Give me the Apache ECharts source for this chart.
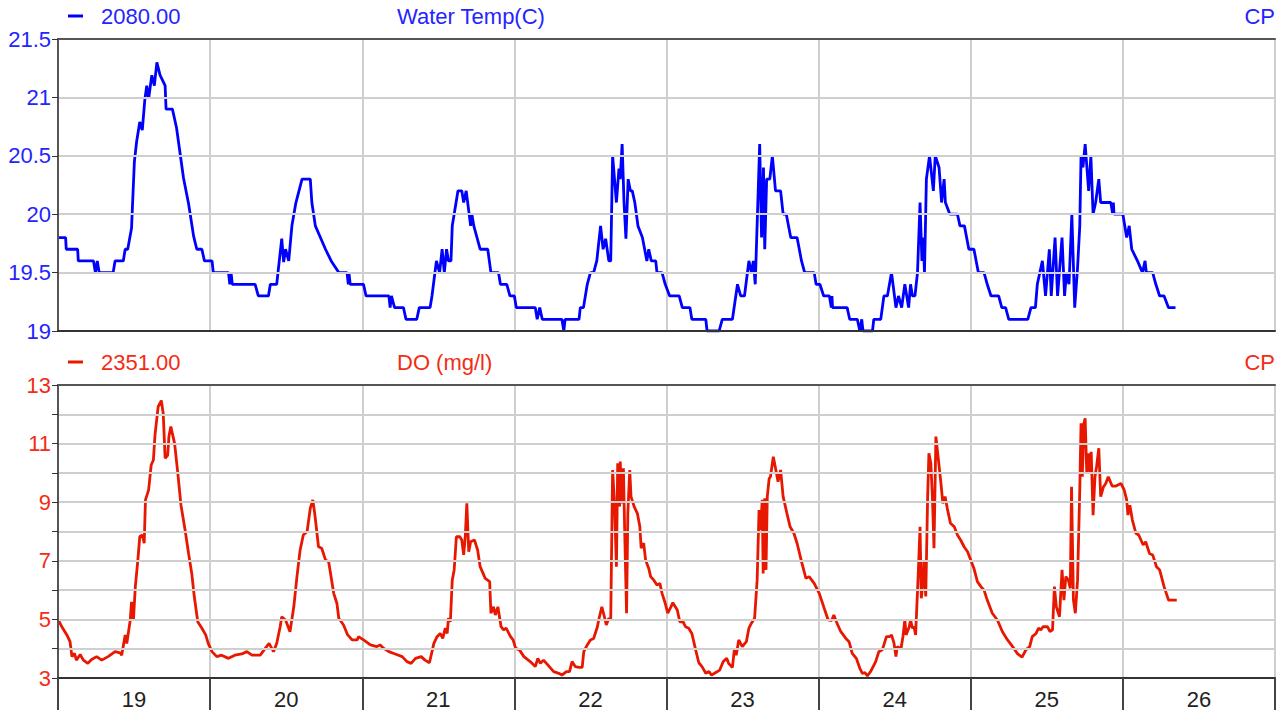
<!DOCTYPE html>
<html>
<head>
<meta charset="utf-8">
<script src="https://cdn.jsdelivr.net/npm/echarts@6/dist/echarts.min.js"></script>
<style>html,body{margin:0;padding:0;background:#fff}#c{width:1287px;height:711px}</style>
</head>
<body>
<div id="c"></div>
<script>
// x values are hours since the start of day 19
const dayLabels = ['19','20','21','22','23','24','25','26'];

const tempHours = [0,1.2,1.3,3.1,3.2,5.6,5.9,6.2,6.5,8.7,9.0,10.3,10.6,11.0,11.6,12.05,12.4,12.9,13.3,13.7,14.0,14.3,14.8,15.2,15.6,16.1,16.9,17.05,18.05,18.7,19.8,20.6,21.4,21.9,22.7,23.1,24.3,24.5,26.9,27.1,27.3,27.5,31.1,31.6,33.2,33.5,34.5,35.3,35.6,35.9,36.4,36.9,37.5,38.5,39.8,40.05,40.6,41.4,42.2,43.1,44.3,45.6,45.8,45.9,46.1,48.2,48.6,52.2,52.4,52.6,53.1,54.5,54.9,56.6,57.0,58.5,58.7,59.0,59.7,60.2,60.6,60.95,61.3,61.6,62.0,62.2,62.5,63.1,63.7,64.0,64.4,65.1,65.3,65.6,66.6,67.8,68.3,69.5,69.8,70.8,71.3,72.0,72.3,75.3,75.6,76.0,76.4,79.5,79.8,80.0,82.2,82.4,82.9,83.5,84.0,84.5,85.0,85.6,86.0,86.4,86.9,87.2,87.5,88.1,88.5,88.7,89.0,89.3,89.6,89.95,90.3,90.6,91.0,91.5,92.2,92.9,93.2,93.6,94.3,94.5,95.3,95.8,96.5,98.0,98.5,99.7,100.0,102.2,102.4,104.3,104.8,106.4,107.2,107.7,108.3,109.0,109.4,109.7,110.0,110.7,111.0,111.3,111.5,111.8,112.3,112.7,113.2,114.0,114.4,114.9,115.6,116.6,117.3,117.8,119.3,119.6,120.2,120.8,121.7,122.0,122.1,122.2,124.5,124.9,126.1,126.5,126.8,127.0,128.5,128.7,129.8,130.3,130.85,131.5,132.2,132.6,133.1,133.6,134.2,134.5,134.8,135.2,135.6,136.0,136.3,136.5,136.7,137.0,137.5,138.1,138.4,139.0,139.4,139.8,140.0,140.7,141.9,142.3,143.0,143.7,144.5,145.2,146.1,146.6,147.2,148.4,148.9,149.5,150.0,153.0,153.5,154.2,154.5,155.3,155.8,156.4,156.7,157.3,157.7,158.4,158.8,159.1,159.5,159.95,160.4,160.85,161.2,161.4,161.7,162.05,162.6,162.95,163.3,163.7,164.2,164.5,166.1,166.4,166.5,166.6,168.0,168.6,169.0,169.4,170.3,171.1,171.5,171.7,172.7,173.2,173.8,174.5,175.2,176.3];
const tempValues = [19.8,19.8,19.7,19.7,19.6,19.6,19.5,19.6,19.5,19.5,19.6,19.6,19.7,19.7,19.88,20.45,20.62,20.79,20.72,20.98,21.1,20.99,21.19,21.1,21.3,21.19,21.1,20.9,20.9,20.74,20.31,20.09,19.81,19.7,19.7,19.6,19.6,19.5,19.5,19.4,19.5,19.4,19.4,19.3,19.3,19.4,19.4,19.79,19.59,19.7,19.6,19.9,20.09,20.3,20.3,20.1,19.9,19.8,19.7,19.6,19.5,19.5,19.4,19.5,19.4,19.4,19.3,19.3,19.2,19.3,19.2,19.2,19.1,19.1,19.2,19.2,19.2,19.3,19.6,19.5,19.7,19.5,19.7,19.6,19.6,19.9,20.0,20.2,20.2,20.1,20.2,19.9,20.0,19.9,19.7,19.7,19.5,19.5,19.4,19.4,19.3,19.3,19.2,19.2,19.1,19.2,19.1,19.1,19.0,19.1,19.1,19.2,19.2,19.4,19.5,19.5,19.6,19.9,19.7,19.79,19.6,19.6,20.5,20.1,20.39,20.3,20.6,20.1,19.79,20.3,20.2,20.2,20.1,19.9,19.8,19.6,19.7,19.6,19.6,19.5,19.5,19.4,19.3,19.3,19.2,19.2,19.1,19.1,19.0,19.0,19.1,19.1,19.4,19.3,19.3,19.6,19.5,19.6,19.4,20.6,19.8,20.4,19.7,20.3,20.3,20.5,20.2,20.2,20.0,20.0,19.8,19.8,19.6,19.5,19.5,19.4,19.4,19.3,19.3,19.2,19.3,19.2,19.2,19.1,19.1,19.0,19.1,19.0,19.0,19.1,19.1,19.3,19.3,19.5,19.2,19.3,19.2,19.4,19.2,19.4,19.3,19.3,19.5,20.1,19.6,19.8,19.5,20.3,20.5,20.2,20.5,20.4,20.1,20.3,20.1,20.0,20.0,19.9,19.9,19.7,19.7,19.5,19.5,19.4,19.3,19.3,19.2,19.2,19.1,19.1,19.2,19.2,19.4,19.6,19.3,19.7,19.3,19.8,19.3,19.8,19.3,19.5,19.4,20.0,19.2,19.54,19.9,20.5,20.4,20.6,20.2,20.5,20.0,20.1,20.3,20.1,20.1,20.0,20.1,20.0,20.0,19.8,19.9,19.7,19.6,19.5,19.6,19.5,19.5,19.4,19.3,19.3,19.2,19.2];

const doHours = [0,0.6,1.4,1.9,2.2,2.6,2.9,3.5,4.0,4.7,5.3,6.1,6.9,7.9,9.0,9.8,10.05,10.6,10.85,11.4,11.6,11.9,12.2,12.6,12.9,13.3,13.6,13.8,14.3,14.7,15.05,15.3,15.8,16.3,16.6,16.9,17.3,17.5,17.8,18.4,18.9,19.4,20.05,20.6,21.1,21.5,22.05,22.7,23.3,23.7,24.3,25.05,25.8,26.9,27.9,29.0,29.8,30.6,31.9,32.7,33.3,34.0,34.5,35.05,35.3,35.9,36.6,37.2,37.7,38.2,38.7,39.3,39.8,40.2,40.5,41.1,41.6,42.2,42.7,43.5,44.0,44.3,45.05,45.7,46.4,47.2,47.4,48.2,49.3,50.3,50.8,51.4,52.2,53.2,54.3,55.05,55.7,56.4,57.3,57.9,58.6,59.3,59.8,60.3,60.7,61.1,61.4,61.6,61.9,62.2,62.5,62.85,63.4,63.7,64.0,64.25,64.5,64.8,65.1,65.7,66.2,66.6,67.4,68.1,68.3,68.7,69.0,69.4,69.9,70.3,70.7,71.4,71.8,72.2,72.8,73.5,74.5,75.3,75.7,76.1,76.6,77.3,78.2,79.0,79.5,80.2,80.7,81.1,81.6,82.2,82.7,82.95,83.5,84.0,84.5,85.1,85.3,85.8,86.2,86.5,86.9,87.2,87.5,87.8,88.1,88.3,88.6,88.7,89.0,89.2,89.4,89.7,89.9,90.2,90.4,90.9,91.4,91.8,92.0,92.4,92.7,93.2,93.5,94.0,94.5,94.95,95.3,95.8,96.2,96.7,97.0,97.7,98.1,98.6,99.0,99.5,100.0,100.6,101.1,101.6,102.2,102.7,103.1,103.7,104.4,104.95,105.5,105.8,106.4,106.7,107.0,107.4,107.95,108.6,109.0,109.4,109.9,110.3,110.6,110.85,111.1,111.25,111.5,111.7,111.9,112.2,112.4,112.85,113.2,113.6,114.0,114.4,115.0,115.5,116.1,116.6,117.3,118.0,118.5,119.3,120.1,120.8,121.5,122.05,122.4,122.8,123.5,124.3,124.8,125.3,125.95,126.5,126.9,127.3,127.7,128.2,129.0,129.5,130.05,130.7,131.2,131.5,131.9,132.2,132.4,133.0,133.3,133.6,133.8,134.3,134.5,134.8,135.05,135.3,135.7,136.0,136.2,136.5,136.6,136.9,137.2,137.4,137.7,137.95,138.2,138.5,138.9,139.3,139.6,139.95,140.3,140.8,141.4,141.9,142.4,142.95,143.5,144.0,144.5,145.05,145.6,146.1,146.6,147.4,148.2,149.0,149.8,150.6,151.4,152.1,152.7,153.3,153.7,154.3,154.7,155.05,155.4,156.1,156.5,156.9,157.2,157.5,158.0,158.4,158.7,159.0,159.4,159.7,159.9,160.2,160.5,160.85,161.2,161.4,161.6,161.85,162.05,162.3,162.6,162.8,163.0,163.3,163.6,163.85,164.2,164.5,164.95,165.3,165.7,166.3,166.9,167.7,168.2,168.6,168.8,169.1,169.5,170.05,170.5,170.85,171.2,171.6,172.2,172.7,173.3,173.8,174.5,175.2,175.8,176.5];
const doValues = [5.0,4.75,4.47,4.24,3.73,3.84,3.61,3.8,3.61,3.5,3.63,3.73,3.61,3.73,3.9,3.86,3.78,4.47,4.18,4.98,5.6,4.98,6.12,7.03,7.82,7.88,7.6,9.08,9.42,10.27,10.44,11.29,12.26,12.47,12.03,10.5,10.6,11.24,11.58,11.0,9.99,8.9,8.05,7.25,6.57,5.78,4.92,4.7,4.47,4.18,3.9,3.73,3.78,3.67,3.78,3.82,3.9,3.78,3.78,4.01,4.18,3.9,4.18,4.75,5.09,4.98,4.58,5.43,6.46,7.37,7.88,8.0,8.79,9.08,8.62,7.48,7.43,7.03,6.97,5.89,5.55,5.04,4.81,4.47,4.3,4.3,4.41,4.3,4.13,4.07,4.13,4.01,3.9,3.82,3.73,3.56,3.5,3.67,3.73,3.61,3.52,4.18,4.41,4.52,4.35,4.7,4.52,5.04,4.92,6.34,6.69,7.82,7.82,7.71,7.2,7.82,8.96,7.31,7.65,7.71,7.37,6.8,6.4,6.29,5.21,5.43,5.15,5.43,4.75,4.64,4.7,4.41,4.3,4.01,3.96,3.73,3.56,3.39,3.67,3.5,3.61,3.44,3.22,3.16,3.1,3.22,3.22,3.56,3.39,3.36,3.36,3.9,4.13,4.3,4.35,4.75,4.98,5.43,5.09,4.81,5.04,4.98,10.1,8.96,6.8,10.33,8.85,10.39,8.96,10.16,8.05,5.21,8.62,10.1,9.19,8.85,8.62,8.16,7.43,7.6,7.03,6.74,6.46,6.34,6.17,6.23,5.89,5.55,5.21,5.43,5.57,5.32,4.92,4.92,4.75,4.7,4.52,3.96,3.52,3.39,3.16,3.22,3.1,3.18,3.27,3.56,3.67,3.5,3.36,3.96,3.78,4.3,4.07,4.24,4.7,4.87,5.04,6.34,8.73,8.05,9.08,6.57,9.13,6.69,9.19,9.81,9.87,10.55,10.16,9.7,10.1,9.19,8.62,8.16,7.94,7.6,6.97,6.4,6.46,6.23,5.89,5.43,4.98,4.96,5.15,4.92,4.58,4.35,4.24,3.84,3.67,3.33,3.16,3.18,3.07,3.22,3.56,3.9,3.96,4.41,4.41,4.47,4.18,3.73,4.07,4.01,4.41,4.98,4.47,4.75,4.98,4.7,4.75,4.47,6.46,8.16,5.72,6.34,7.03,5.78,9.19,10.67,10.33,9.19,7.43,11.24,10.44,9.64,8.96,9.19,8.79,8.28,8.16,7.88,7.71,7.48,7.31,7.03,6.74,6.29,6.12,6.0,5.66,5.21,4.98,4.58,4.3,4.07,3.82,3.71,3.96,4.07,4.41,4.52,4.7,4.64,4.75,4.75,4.58,4.64,6.12,5.43,5.09,6.69,5.66,6.46,6.34,6.06,9.53,5.66,5.21,6.34,9.42,11.69,9.87,11.69,11.86,9.99,10.67,9.99,10.72,8.56,9.87,10.21,10.84,9.19,9.53,9.64,9.87,9.55,9.55,9.64,9.42,9.08,8.56,8.9,8.39,7.94,7.88,7.71,7.54,7.65,7.25,7.2,6.8,6.69,6.12,5.66,5.66,5.66];

const BLUE = '#0000ff', BLUE_T = '#2424ff';
const RED = '#e81800', RED_T = '#f42c14';
const FONT = "'Liberation Sans', Arial, sans-serif";
const GRIDC = '#cfcfcf', FRAME = '#555';
const FS = 22;

const pairs = (xs, ys) => xs.map((x, i) => [x, ys[i]]);

const chart = echarts.init(document.getElementById('c'), null, {renderer: 'svg'});

const valueX = (gi) => ({
  type: 'value', gridIndex: gi, min: 0, max: 192, interval: 24,
  axisLabel: {show: false}, axisTick: {show: false}, axisLine: {show: false},
  splitLine: {show: true, lineStyle: {color: GRIDC, width: 2}}
});
const frameX = (gi) => ({
  type: 'value', gridIndex: gi, position: 'top', min: 0, max: 192,
  axisLabel: {show: false}, axisTick: {show: false}, splitLine: {show: false},
  axisLine: {show: true, lineStyle: {color: FRAME, width: 2}}, z: 5
});
const frameY = (gi, mn, mx) => ({
  type: 'value', gridIndex: gi, position: 'right', min: mn, max: mx,
  axisLabel: {show: false}, axisTick: {show: false}, splitLine: {show: false},
  axisLine: {show: true, lineStyle: {color: FRAME, width: 2}}, z: 5
});
const headText = (color) => ({color: color, fontSize: FS, fontWeight: 'normal', fontFamily: FONT});

chart.setOption({
  animation: false,
  backgroundColor: '#fff',
  textStyle: {fontFamily: FONT},
  grid: [
    {left: 58, right: 12, top: 39, height: 292, show: false, containLabel: false},
    {left: 58, right: 12, top: 385, height: 293, show: false, containLabel: false}
  ],
  legend: [
    {data: ['2080.00'], left: 68, top: 5, padding: 0, icon: 'rect', itemWidth: 15, itemHeight: 3,
     textStyle: Object.assign(headText(BLUE_T), {padding: [0, 0, 0, 13]}), selectedMode: false},
    {data: ['2351.00'], left: 68, top: 351, padding: 0, icon: 'rect', itemWidth: 15, itemHeight: 3,
     textStyle: Object.assign(headText(RED_T), {padding: [0, 0, 0, 13]}), selectedMode: false}
  ],
  title: [
    {text: 'Water Temp(C)', left: 397, top: 5, padding: 0, textStyle: headText(BLUE_T)},
    {text: 'CP', right: 12, top: 5, padding: 0, textStyle: headText(BLUE_T)},
    {text: 'DO (mg/l)', left: 397, top: 351, padding: 0, textStyle: headText(RED_T)},
    {text: 'CP', right: 12, top: 351, padding: 0, textStyle: headText(RED_T)}
  ],
  xAxis: [
    valueX(0),
    valueX(1),
    {type: 'category', gridIndex: 1, position: 'bottom', data: dayLabels, boundaryGap: true,
     axisLine: {show: true, lineStyle: {color: '#333', width: 2}},
     axisTick: {show: true, length: 32, alignWithLabel: false, lineStyle: {color: '#444', width: 2}},
     axisLabel: {color: '#222', fontSize: FS, fontFamily: FONT, margin: 10},
     splitLine: {show: false}, z: 5},
    frameX(0),
    frameX(1),
    {type: 'value', gridIndex: 0, position: 'bottom', min: 0, max: 192,
     axisLabel: {show: false}, axisTick: {show: false}, splitLine: {show: false},
     axisLine: {show: true, lineStyle: {color: '#333', width: 2}}, z: 5}
  ],
  yAxis: [
    {type: 'value', gridIndex: 0, min: 19, max: 21.5, interval: 0.5,
     axisLine: {show: true, lineStyle: {color: '#333', width: 2}},
     axisTick: {show: true, length: 6, lineStyle: {color: '#333'}},
     axisLabel: {color: BLUE_T, fontSize: FS, fontFamily: FONT, margin: 7},
     splitLine: {show: true, lineStyle: {color: GRIDC, width: 2}}, z: 5},
    {type: 'value', gridIndex: 1, min: 3, max: 13, interval: 1,
     axisLine: {show: true, lineStyle: {color: '#333', width: 2}},
     axisTick: {show: true, length: 6, lineStyle: {color: '#333'}},
     axisLabel: {color: RED_T, fontSize: FS, fontFamily: FONT, margin: 7,
                 formatter: v => (Math.round(v) % 2 === 1 ? String(v) : '')},
     splitLine: {show: true, lineStyle: {color: GRIDC, width: 2}}, z: 5},
    frameY(0, 19, 21.5),
    frameY(1, 3, 13)
  ],
  series: [
    {name: '2080.00', type: 'line', xAxisIndex: 0, yAxisIndex: 0, data: pairs(tempHours, tempValues),
     showSymbol: false, symbol: 'none', color: BLUE, lineStyle: {color: BLUE, width: 2.8}},
    {name: '2351.00', type: 'line', xAxisIndex: 1, yAxisIndex: 1, data: pairs(doHours, doValues),
     showSymbol: false, symbol: 'none', color: RED, lineStyle: {color: RED, width: 2.8}}
  ]
});
</script>
</body>
</html>
